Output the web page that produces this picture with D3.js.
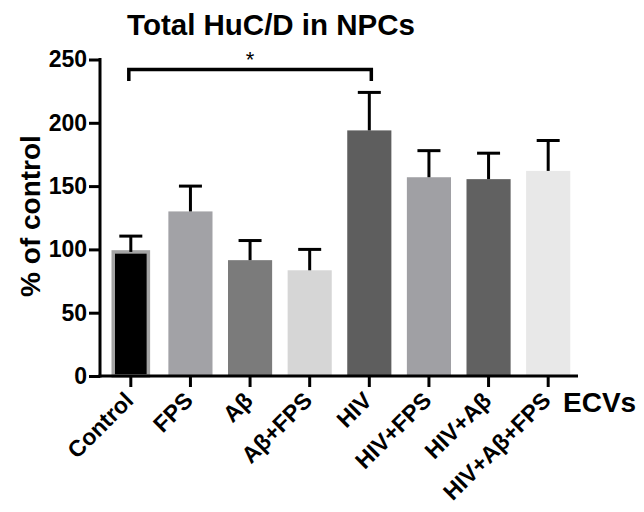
<!DOCTYPE html>
<html>
<head>
<meta charset="utf-8">
<script src="https://cdn.jsdelivr.net/npm/d3@7"></script>
<style>
  html, body { margin: 0; padding: 0; background: #fff; }
  svg { display: block; font-family: "Liberation Sans", Arial, sans-serif; font-weight: bold; }
</style>
</head>
<body>
<svg id="chart" width="644" height="512"></svg>
<script>
const categories = ["Control", "FPS", "Aβ", "Aβ+FPS", "HIV", "HIV+FPS", "HIV+Aβ", "HIV+Aβ+FPS"];
const means = [98, 130, 91.5, 83.5, 194, 157, 155.5, 162];
const errUpper = [110.5, 150, 107, 100, 224, 178, 176, 186];
const barColors = ["#000000", "#a2a2a6", "#7b7b7b", "#d6d6d6", "#5e5e5e", "#a0a0a4", "#616161", "#e8e8e8"];
const yTicks = [0, 50, 100, 150, 200, 250];
const title = "Total HuC/D in NPCs";
const yLabel = "% of control";
const xLabel = "ECVs";
const sigPair = ["Control", "HIV"];
const sigMark = "*";

const svg = d3.select("#chart");

const x = d3.scaleBand().domain(categories).range([101, 578]).paddingInner(0.26).paddingOuter(0.13);
const y = d3.scaleLinear().domain([0, 250]).range([376, 59.5]);

// bars
svg.append("g").selectAll("rect").data(categories).join("rect")
  .attr("x", (d, i) => i === 0 ? x(d) + 4.5 : x(d))
  .attr("width", (d, i) => i === 0 ? x.bandwidth() - 9 : x.bandwidth())
  .attr("y", (d, i) => y(means[i]))
  .attr("height", (d, i) => y(0) - y(means[i]))
  .attr("fill", (d, i) => barColors[i])
  .attr("stroke", (d, i) => i === 0 ? "#a4a4a4" : "none")
  .attr("stroke-width", 3.5);

// error bars (upper only)
const eg = svg.append("g").attr("stroke", "#000").attr("stroke-width", 3);
categories.forEach((c, i) => {
  const cx = x(c) + x.bandwidth() / 2;
  eg.append("line").attr("x1", cx).attr("x2", cx).attr("y1", y(means[i])).attr("y2", y(errUpper[i]));
  eg.append("line").attr("x1", cx - 11.5).attr("x2", cx + 11.5).attr("y1", y(errUpper[i])).attr("y2", y(errUpper[i]));
});

// y axis
const yAxis = d3.axisLeft(y).tickValues(yTicks).tickSize(11).tickPadding(2);
const ga = svg.append("g").attr("transform", "translate(100,0)").call(yAxis);
ga.select(".domain").attr("stroke-width", 3).attr("d", `M0,${y(250) - 1.5}V${y(0) + 1.5}`);
ga.selectAll(".tick line").attr("stroke-width", 3);
ga.selectAll(".tick text").attr("font-size", 23).attr("font-weight", "bold").attr("font-family", "Liberation Sans, Arial, sans-serif").attr("fill", "#000");

// x axis
const xAxis = d3.axisBottom(x).tickSize(11).tickSizeOuter(0).tickFormat(() => "");
const gx = svg.append("g").attr("transform", `translate(0,${y(0)})`).call(xAxis);
gx.select(".domain").attr("stroke-width", 3).attr("d", "M98.5,0H578");
gx.selectAll(".tick line").attr("stroke-width", 3);

// rotated x labels
svg.append("g").selectAll("text").data(categories).join("text")
  .attr("transform", d => `translate(${x(d) + x.bandwidth() / 2 + 4},${402}) rotate(-45)`)
  .attr("text-anchor", "end")
  .attr("font-size", 23)
  .attr("fill", "#000")
  .text(d => d);

// ECVs
svg.append("text").attr("x", 563).attr("y", 412).attr("font-size", 28).attr("fill", "#000").text(xLabel);

// y label
svg.append("text").attr("transform", `translate(40,216) rotate(-90)`).attr("text-anchor", "middle")
  .attr("font-size", 28).attr("fill", "#000").text(yLabel);

// title
svg.append("text").attr("x", 271).attr("y", 35).attr("text-anchor", "middle")
  .attr("font-size", 29.5).attr("fill", "#000").text(title);

// significance bracket
const bx1 = x(sigPair[0]) + x.bandwidth() / 2 - 2;
const bx2 = x(sigPair[1]) + x.bandwidth() / 2 + 2;
svg.append("path").attr("fill", "none").attr("stroke", "#000").attr("stroke-width", 3.5)
  .attr("d", `M${bx1},81V69.5H${bx2}V81`);
svg.append("text").attr("x", (bx1 + bx2) / 2).attr("y", 67).attr("text-anchor", "middle")
  .attr("font-size", 22).attr("font-weight", "normal").attr("fill", "#000").text(sigMark);
</script>
</body>
</html>
